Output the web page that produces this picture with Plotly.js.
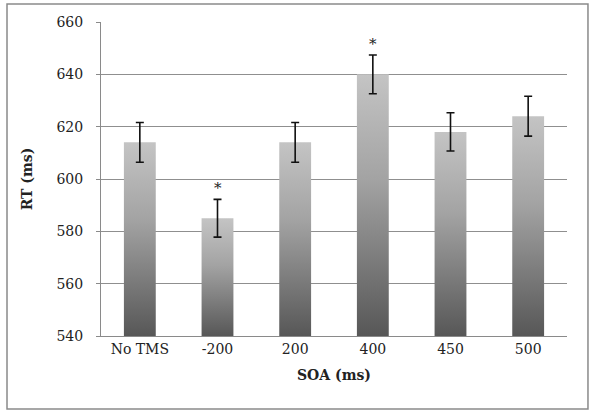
<!DOCTYPE html>
<html>
<head>
<meta charset="utf-8">
<script src="https://cdn.plot.ly/plotly-3.0.1.min.js"></script>
<style>
  html, body { margin: 0; padding: 0; background: #fff; }
  #chart { width: 600px; height: 419px; }
</style>
</head>
<body>
<div id="chart"></div>
<script>
// SOA conditions and mean RT (ms) with error bars
const soaLabels = ["No TMS", "-200", "200", "400", "450", "500"];
const rtMeans = [614, 585, 614, 640, 618, 624];
const rtErrors = [7.6, 7.2, 7.6, 7.4, 7.3, 7.6];
const significant = ["-200", "400"];

const font = "'DejaVu Serif', serif";
const idx = soaLabels.map((_, i) => i);

let trace = {
  type: "bar",
  x: idx,
  y: rtMeans,
  marker: { color: "#8c8c8c", line: { width: 0 } },
  error_y: {
    type: "data",
    array: rtErrors,
    visible: true,
    color: "#111111",
    thickness: 1.6,
    width: 4,
  },
  hoverinfo: "none",
};

let stars = significant.map((lab) => {
  let i = soaLabels.indexOf(lab);
  return {
    x: i,
    y: rtMeans[i] + rtErrors[i],
    text: "*",
    showarrow: false,
    yanchor: "bottom",
    yshift: 0,
    font: { family: font, size: 15, color: "#222222" },
  };
});

let layout = {
  width: 600,
  height: 419,
  margin: { l: 101, r: 33, t: 22, b: 83 },
  paper_bgcolor: "#fff",
  plot_bgcolor: "#fff",
  showlegend: false,
  bargap: 0.59,
  font: { family: font, size: 14, color: "#222" },
  xaxis: {
    range: [-0.5, soaLabels.length - 0.5],
    tickvals: idx,
    ticktext: soaLabels,
    showline: true,
    linecolor: "#8a8a8a",
    linewidth: 1,
    ticks: "",
    showgrid: false,
    zeroline: false,
    tickfont: { family: font, size: 14, color: "#222" },
    title: {
      text: "<b>SOA (ms)</b>",
      font: { family: font, size: 14, color: "#222" },
      standoff: 14,
    },
  },
  yaxis: {
    range: [540, 660],
    dtick: 20,
    showline: true,
    linecolor: "#8a8a8a",
    linewidth: 1,
    ticks: "outside",
    ticklen: 4,
    tickcolor: "#8a8a8a",
    showgrid: true,
    gridcolor: "#8f8f8f",
    gridwidth: 1,
    zeroline: false,
    ticklabelstandoff: 10,
    tickfont: { family: font, size: 14, color: "#222" },
    title: {
      text: "<b>RT (ms)</b>",
      font: { family: font, size: 14, color: "#222" },
      standoff: 20,
    },
  },
  annotations: stars,
  shapes: [
    {
      type: "rect",
      xref: "paper",
      yref: "paper",
      x0: -0.2017,
      x1: 1.045,
      y0: -0.2325,
      y1: 1.0573,
      line: { color: "#8a8a8a", width: 1.5 },
      fillcolor: "rgba(0,0,0,0)",
    },
  ],
};

let config = { staticPlot: true };

Plotly.newPlot("chart", [trace], layout, config).then((gd) => {
  // each bar gets its own grey gradient: light at its top, dark at the axis
  const svgNS = "http://www.w3.org/2000/svg";
  let ya = gd._fullLayout.yaxis;
  let svg = gd.querySelector("svg.main-svg");
  let defs = svg.querySelector("defs") || svg.insertBefore(document.createElementNS(svgNS, "defs"), svg.firstChild);
  gd.querySelectorAll(".barlayer .point path").forEach((p, i) => {
    let grad = document.createElementNS(svgNS, "linearGradient");
    grad.setAttribute("id", "barGrad" + i);
    grad.setAttribute("gradientUnits", "userSpaceOnUse");
    grad.setAttribute("x1", "0");
    grad.setAttribute("x2", "0");
    grad.setAttribute("y1", String(ya.l2p(rtMeans[i])));
    grad.setAttribute("y2", String(ya.l2p(540)));
    [["0", "#c4c4c4"], ["0.4", "#a3a3a3"], ["1", "#575757"]].forEach(([o, c]) => {
      let s = document.createElementNS(svgNS, "stop");
      s.setAttribute("offset", o);
      s.setAttribute("stop-color", c);
      grad.appendChild(s);
    });
    defs.appendChild(grad);
    p.style.fill = "url(#barGrad" + i + ")";
  });
});
</script>
</body>
</html>
